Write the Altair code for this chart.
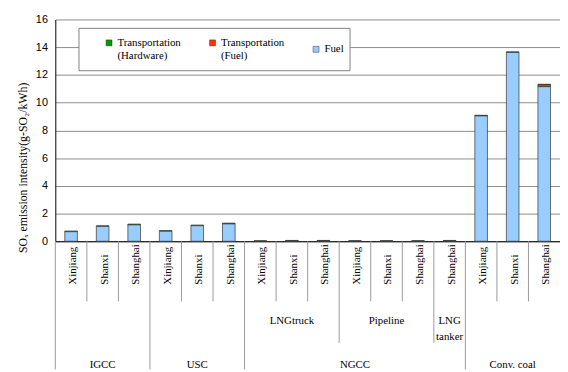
import altair as alt
import pandas as pd

# ---- data ----
groups = ["IGCC"] * 3 + ["USC"] * 3 + ["NGCC"] * 7 + ["Conv. coal"] * 3
subgroups = [""] * 6 + ["LNGtruck"] * 3 + ["Pipeline"] * 3 + ["LNG\ntanker"] + [""] * 3
regions = ["Xinjiang", "Shanxi", "Shanghai"] * 4 + ["Shanghai"] + ["Xinjiang", "Shanxi", "Shanghai"]

series = ["Transportation (Hardware)", "Transportation (Fuel)", "Fuel"]
colors = ["#009900", "#ff3300", "#99ccff"]

hardware = [0.05, 0.05, 0.06, 0.05, 0.05, 0.06, 0.02, 0.04, 0.04, 0.01, 0.01, 0.01, 0.04, 0.05, 0.05, 0.04]
trans_fuel = [0, 0, 0, 0, 0, 0, 0, 0, 0, 0, 0, 0, 0, 0, 0, 0.14]
fuel = [0.69, 1.07, 1.18, 0.72, 1.12, 1.25, 0.01, 0.02, 0.02, 0.02, 0.02, 0.02, 0.02, 9.04, 13.62, 11.15]

y_ticks = [0, 2, 4, 6, 8, 10, 12, 14, 16]
y_title = "SOₓ emission intensity(g-SO₂/kWh)"

W, H = 512, 225
SERIF = "'Times New Roman', 'Liberation Serif', Times, 'DejaVu Serif', serif"
SANS = "Arial, 'Liberation Sans', Helvetica, sans-serif"

keys = [f"c{i:02d}" for i in range(len(regions))]

# long table of bar segments
rows = []
values_by_series = [hardware, trans_fuel, fuel]
for s_idx, (name, vals) in enumerate(zip(series, values_by_series)):
    for i, v in enumerate(vals):
        rows.append({"key": keys[i], "series": name, "value": v, "order": len(series) - 1 - s_idx})
bars_df = pd.DataFrame(rows)

# categories with boundary type
levels = []
for i in range(len(keys)):
    if i == 0 or groups[i] != groups[i - 1]:
        levels.append("long")
    elif subgroups[i] != subgroups[i - 1]:
        levels.append("mid")
    else:
        levels.append("short")
cat_df = pd.DataFrame({"key": keys, "region": regions, "level": levels})


def run_mids(labels):
    out = []
    i = 0
    while i < len(labels):
        j = i
        while j + 1 < len(labels) and labels[j + 1] == labels[i]:
            j += 1
        if labels[i]:
            out.append({"key": keys[(i + j) // 2], "label": labels[i]})
        i = j + 1
    return pd.DataFrame(out)


sub_df = run_mids(subgroups)
grp_df = run_mids(groups)

x_scale = alt.Scale(domain=keys, paddingInner=0, paddingOuter=0)
x_axis = alt.Axis(labels=False, ticks=False, title=None, grid=False,
                  domainColor="black", domainWidth=1)


def xenc(**kw):
    return alt.X("key:N", sort=keys, scale=x_scale, axis=x_axis, **kw)


bars = alt.Chart(bars_df).transform_filter("datum.value > 0").mark_bar(
    width=alt.RelativeBandSize(0.4), stroke="#333333", strokeWidth=0.7
).encode(
    x=xenc(),
    y=alt.Y("value:Q", stack="zero", scale=alt.Scale(domain=[0, 16], nice=False),
            axis=alt.Axis(values=y_ticks, grid=True, gridColor="#8c8c8c", gridWidth=1,
                          domainColor="black", ticks=False,
                          labelFont=SANS, labelFontSize=11, labelColor="black", labelPadding=8,
                          title=y_title, titleFont=SERIF, titleFontSize=12,
                          titleFontWeight="normal", titleColor="black",
                          titleX=-33, titleY=150, titleAngle=270,
                          titleBaseline="middle", titleAlign="center")),
    color=alt.Color("series:N", scale=alt.Scale(domain=series, range=colors),
                    legend=alt.Legend(orient="none", legendX=49, legendY=18,
                                      direction="horizontal", columns=3, title=None,
                                      symbolType="square", symbolSize=36,
                                      symbolStrokeColor="#333333", symbolStrokeWidth=0.5,
                                      labelFont=SERIF, labelFontSize=11, labelColor="black",
                                      labelExpr="split(datum.label, ' ')",
                                      labelBaseline="middle", labelOffset=3,
                                      columnPadding=26, gridAlign="all", padding=0,
                                      labelLimit=0)),
    order=alt.Order("order:Q", sort="ascending"),
)

legend_box = alt.Chart(pd.DataFrame({"k": [0]})).mark_rect(
    fill="white", stroke="#808080", strokeWidth=1
).encode(x=alt.value(24), x2=alt.value(299), y=alt.value(9), y2=alt.value(52))

rule_len = {"short": 61, "mid": 103, "long": 130}
rules = []
for lvl, ln in rule_len.items():
    rules.append(
        alt.Chart(cat_df).transform_filter(f"datum.level == '{lvl}'").mark_rule(
            color="#999999", strokeWidth=1
        ).encode(x=xenc(bandPosition=0), y=alt.value(H), y2=alt.value(H + ln))
    )

region_text = alt.Chart(cat_df).mark_text(
    angle=270, align="left", baseline="middle", dy=2,
    font=SERIF, fontSize=11, color="black"
).encode(x=xenc(), y=alt.value(269), text="region:N")

sub_text = alt.Chart(sub_df).mark_text(
    align="center", baseline="alphabetic", lineBreak="\n", lineHeight=16,
    font=SERIF, fontSize=11, color="black"
).encode(x=xenc(), y=alt.value(309), text="label:N")

grp_text = alt.Chart(grp_df).mark_text(
    align="center", baseline="alphabetic",
    font=SERIF, fontSize=11, color="black"
).encode(x=xenc(), y=alt.value(354), text="label:N")

chart = alt.layer(bars, legend_box, *rules, region_text, sub_text, grp_text).properties(
    width=W, height=H,
    autosize=alt.AutoSizeParams(type="none"),
    padding={"left": 48, "top": 9, "right": 0, "bottom": 130},
).configure_view(stroke=None)

chart.save("out.html", embed_options={"renderer": "svg", "actions": False})
